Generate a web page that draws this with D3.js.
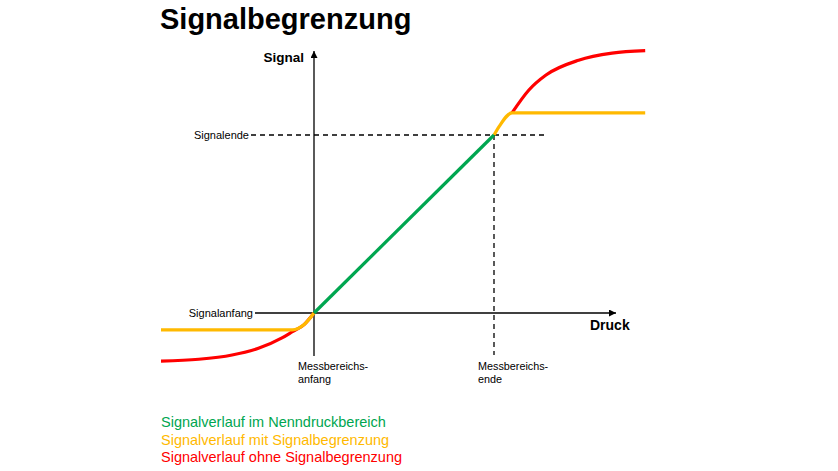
<!DOCTYPE html>
<html>
<head>
<meta charset="utf-8">
<script src="https://cdn.jsdelivr.net/npm/d3@7"></script>
<style>
  html, body { margin: 0; padding: 0; background: #fff; }
  svg { display: block; font-family: "Liberation Sans", Arial, sans-serif; }
</style>
</head>
<body>
<svg id="chart" width="838" height="471"></svg>
<script>
// ---- Data (pressure in % of measuring range, signal in % of signal span) ----
const title = "Signalbegrenzung";
const yAxisTitle = "Signal";
const xAxisTitle = "Druck";
const yTickValues = [0, 100];
const yTickLabels = ["Signalanfang", "Signalende"];
const xTickValues = [0, 100];
const xTickLabels = [["Messbereichs-", "anfang"], ["Messbereichs-", "ende"]];

const greenSeries = [[0, 0], [100, 100]];
const yellowLeft = [[-85, -9.5], [-12, -9.5], [-5.5, -6.5], [0, 0]];
const yellowRight = [[100, 100], [103, 105], [110, 112.4], [184, 112.4]];
const redLeft = [[-85, -27], [-64, -26], [-45.5, -23.6], [-30.5, -19.7], [-17.8, -14], [-12, -10.5], [-5.5, -6.5], [0, 0]];
const redRight = [[110, 112.4], [119.4, 125.3], [128.9, 133.7], [147, 142], [165.6, 146], [184, 147.4]];

const legendLabels = [
  "Signalverlauf im Nenndruckbereich",
  "Signalverlauf mit Signalbegrenzung",
  "Signalverlauf ohne Signalbegrenzung"
];
const colors = { green: "#00a650", yellow: "#ffb900", red: "#ff0000" };
const legendColors = [colors.green, colors.yellow, colors.red];

// ---- Drawing ----
const svg = d3.select("#chart");
const x = d3.scaleLinear().domain([0, 100]).range([314, 494]);
const y = d3.scaleLinear().domain([0, 100]).range([313, 135]);

const defs = svg.append("defs");
defs.append("marker")
  .attr("id", "arrow")
  .attr("viewBox", "0 0 10 10")
  .attr("refX", 10).attr("refY", 5)
  .attr("markerWidth", 7).attr("markerHeight", 7)
  .attr("markerUnits", "userSpaceOnUse")
  .attr("orient", "auto")
  .append("path").attr("d", "M0,0 L10,5 L0,10 Z").attr("fill", "#000");

// Title
svg.append("text")
  .attr("x", 160).attr("y", 29)
  .attr("font-size", 29).attr("font-weight", "bold")
  .attr("fill", "#000")
  .text(title);

// Dashed guide lines
svg.append("line")
  .attr("x1", 251).attr("x2", 544)
  .attr("y1", y(100)).attr("y2", y(100))
  .attr("stroke", "#000").attr("stroke-width", 1.3).attr("stroke-dasharray", "5,4");
svg.append("line")
  .attr("x1", x(100)).attr("x2", x(100))
  .attr("y1", y(100)).attr("y2", 355)
  .attr("stroke", "#000").attr("stroke-width", 1.3).attr("stroke-dasharray", "5,4");

// Axes
svg.append("line")
  .attr("x1", 255).attr("x2", 616)
  .attr("y1", y(0)).attr("y2", y(0))
  .attr("stroke", "#000").attr("stroke-width", 1.3)
  .attr("marker-end", "url(#arrow)");
svg.append("line")
  .attr("x1", x(0)).attr("x2", x(0))
  .attr("y1", 356).attr("y2", 51)
  .attr("stroke", "#000").attr("stroke-width", 1.3)
  .attr("marker-end", "url(#arrow)");

// Axis titles
svg.append("text")
  .attr("x", 304).attr("y", 62)
  .attr("text-anchor", "end")
  .attr("font-size", 13.5).attr("font-weight", "bold")
  .text(yAxisTitle);
svg.append("text")
  .attr("x", 590).attr("y", 330)
  .attr("font-size", 14).attr("font-weight", "bold")
  .text(xAxisTitle);

// Y tick labels
svg.selectAll(".ylab").data(yTickValues).enter().append("text")
  .attr("class", "ylab")
  .attr("x", (d, i) => i === 0 ? 253 : 249)
  .attr("y", d => y(d) + 4)
  .attr("text-anchor", "end")
  .attr("font-size", 11)
  .text((d, i) => yTickLabels[i]);

// X tick labels
xTickValues.forEach((v, i) => {
  const t = svg.append("text")
    .attr("x", x(v) - 16).attr("y", 370)
    .attr("font-size", 10.8);
  xTickLabels[i].forEach((s, j) => {
    t.append("tspan").attr("x", x(v) - 16).attr("dy", j === 0 ? 0 : 13).text(s);
  });
});

// Curves
const line = d3.line().x(d => x(d[0])).y(d => y(d[1])).curve(d3.curveMonotoneX);
function drawSeries(data, color) {
  svg.append("path")
    .attr("d", line(data))
    .attr("fill", "none")
    .attr("stroke", color)
    .attr("stroke-width", 3.2)
    .attr("stroke-linecap", "butt")
    .attr("stroke-linejoin", "round");
}
drawSeries(redLeft, colors.red);
drawSeries(redRight, colors.red);
drawSeries(yellowLeft, colors.yellow);
drawSeries(yellowRight, colors.yellow);
drawSeries(greenSeries, colors.green);

// Legend
svg.selectAll(".leg").data(legendLabels).enter().append("text")
  .attr("class", "leg")
  .attr("x", 161)
  .attr("y", (d, i) => 427 + i * 17.5)
  .attr("font-size", 14.5)
  .attr("fill", (d, i) => legendColors[i])
  .text(d => d);
</script>
</body>
</html>
